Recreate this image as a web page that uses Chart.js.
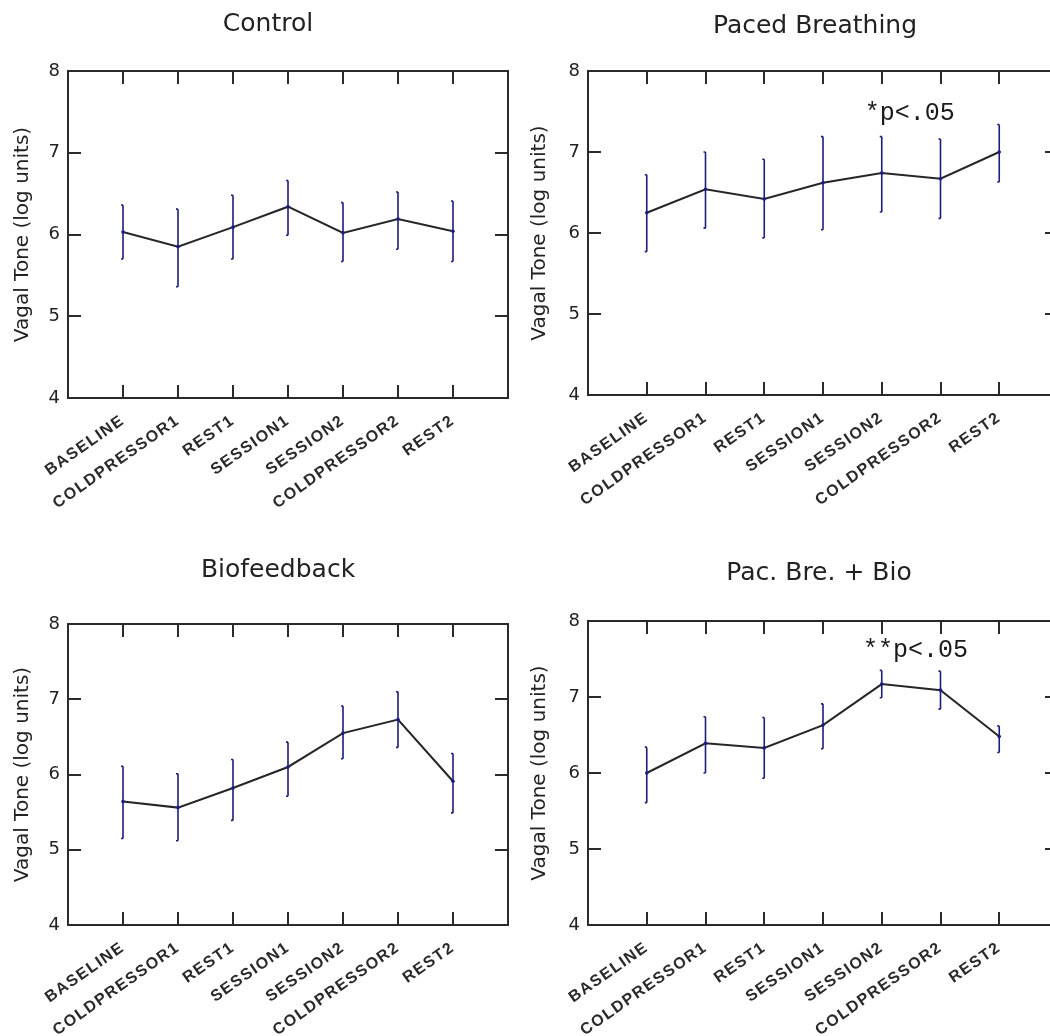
<!DOCTYPE html>
<html>
<head>
<meta charset="utf-8">
<script src="https://cdn.jsdelivr.net/npm/chart.js@4.4.0/dist/chart.umd.min.js"></script>
<style>
  html, body { margin: 0; padding: 0; background: #fff; overflow: hidden; }
  body { width: 1050px; height: 1036px; position: relative; }
  .panel { position: absolute; }
</style>
</head>
<body>
<div class="panel" style="left:0;top:0;width:525px;height:518px"><canvas id="c1"></canvas></div>
<div class="panel" style="left:525px;top:0;width:545px;height:518px"><canvas id="c2"></canvas></div>
<div class="panel" style="left:0;top:518px;width:525px;height:518px"><canvas id="c3"></canvas></div>
<div class="panel" style="left:525px;top:518px;width:545px;height:518px"><canvas id="c4"></canvas></div>
<script>
// Data
const categories = ["BASELINE", "COLDPRESSOR1", "REST1", "SESSION1", "SESSION2", "COLDPRESSOR2", "REST2"];
const yTicks = [4, 5, 6, 7, 8];

const controlMean = [6.03, 5.85, 6.09, 6.34, 6.02, 6.19, 6.04];
const controlHigh = [6.36, 6.31, 6.48, 6.66, 6.39, 6.52, 6.41];
const controlLow  = [5.70, 5.36, 5.70, 5.99, 5.67, 5.82, 5.67];

const pacedMean = [6.25, 6.54, 6.42, 6.62, 6.74, 6.67, 7.00];
const pacedHigh = [6.72, 7.00, 6.91, 7.19, 7.19, 7.16, 7.34];
const pacedLow  = [5.77, 6.06, 5.94, 6.04, 6.26, 6.18, 6.63];

const bioMean = [5.64, 5.56, 5.82, 6.10, 6.55, 6.73, 5.91];
const bioHigh = [6.11, 6.01, 6.20, 6.43, 6.91, 7.10, 6.28];
const bioLow  = [5.15, 5.12, 5.39, 5.71, 6.21, 6.36, 5.49];

const bothMean = [6.00, 6.39, 6.33, 6.63, 7.17, 7.09, 6.48];
const bothHigh = [6.34, 6.74, 6.73, 6.91, 7.35, 7.34, 6.62];
const bothLow  = [5.61, 6.00, 5.93, 6.32, 6.99, 6.84, 6.27];

// error bars + letter spacing for the x labels (drawn after datasets, ticks z = 1)
const errorBars = {
  id: "errorBars",
  afterDatasetsDraw(chart) {
    const ctx = chart.ctx;
    const x = chart.scales.x, y = chart.scales.y;
    chart.data.datasets.forEach(ds => {
      if (!ds.high) return;
      ctx.save();
      ctx.strokeStyle = "#1d1d7a";
      ctx.lineWidth = 1.6;
      ds.data.forEach((p, i) => {
        const px = x.getPixelForValue(p.x);
        const top = y.getPixelForValue(ds.high[i]);
        const bot = y.getPixelForValue(ds.low[i]);
        ctx.beginPath();
        ctx.moveTo(px, top); ctx.lineTo(px, bot);
        ctx.moveTo(px - 2, top); ctx.lineTo(px, top);
        ctx.moveTo(px - 2, bot); ctx.lineTo(px, bot);
        ctx.stroke();
      });
      ctx.restore();
    });
    ctx.letterSpacing = "1.5px";
  },
  afterDraw(chart) {
    chart.ctx.letterSpacing = "0px";
  }
};

// significance note
const note = {
  id: "note",
  afterDraw(chart, args, opts) {
    if (!opts.text) return;
    const ctx = chart.ctx;
    ctx.save();
    ctx.font = "25px 'Liberation Mono'";
    ctx.fillStyle = "#1a1a1a";
    ctx.textBaseline = "middle";
    ctx.fillText(opts.text, chart.scales.x.getPixelForValue(opts.x), chart.scales.y.getPixelForValue(opts.y));
    ctx.restore();
  }
};

// move the title a bit off the plot centre, like the original
const titleShift = {
  id: "titleShift",
  afterLayout(chart, args, opts) {
    const t = chart.titleBlock;
    if (!t) return;
    t.left = chart.chartArea.left + (opts.dx || 0);
    t.right = chart.chartArea.right + (opts.dx || 0);
  }
};

const axisColor = "#2a2a2a";
const setXTicks = s => { s.ticks = categories.map((c, i) => ({ value: i + 1 })); };
const setYTicks = s => { s.ticks = yTicks.map(v => ({ value: v })); };
const grid = { drawOnChartArea: false, tickLength: -13, color: axisColor, lineWidth: 2 };
const border = { color: axisColor, width: 2 };

function makePanel(id, title, mean, high, low, lay, noteOpts) {
  new Chart(document.getElementById(id), {
    type: "line",
    data: {
      datasets: [{
        data: mean.map((v, i) => ({ x: i + 1, y: v })),
        high: high,
        low: low,
        xAxisID: "x",
        yAxisID: "y",
        borderColor: "#262626",
        borderWidth: 2,
        pointRadius: 1.8,
        pointBorderWidth: 0,
        pointBackgroundColor: "#1d1d9a",
        tension: 0
      }]
    },
    options: {
      responsive: true,
      maintainAspectRatio: false,
      animation: false,
      layout: { padding: { left: 0, right: lay.pr, top: 0, bottom: 0 } },
      plugins: {
        legend: { display: false },
        tooltip: { enabled: false },
        title: {
          display: true,
          text: title,
          color: "#222",
          font: { family: "DejaVu Sans", size: 25, weight: "normal" },
          padding: { top: lay.t1, bottom: lay.t2 }
        },
        titleShift: { dx: lay.dx },
        note: noteOpts || {}
      },
      scales: {
        x: {
          type: "linear", min: 0, max: 8, position: "bottom",
          afterBuildTicks: setXTicks,
          afterFit: s => { s.height = lay.xh; s.paddingLeft = 0; s.paddingRight = 0; },
          grid: grid, border: border,
          ticks: {
            z: 1, autoSkip: false, minRotation: 35, maxRotation: 35, padding: 26,
            color: "#2a2a2a", font: { family: "Liberation Sans", size: 16, weight: "bold" },
            callback: v => categories[v - 1] || ""
          }
        },
        x2: {
          type: "linear", min: 0, max: 8, position: "top",
          afterBuildTicks: setXTicks,
          afterFit: s => { s.height = 0; },
          grid: grid, border: border,
          ticks: { display: false }
        },
        y: {
          type: "linear", min: 4, max: 8, position: "left",
          afterBuildTicks: setYTicks,
          afterFit: s => { s.width = lay.yw; s.paddingTop = 0; s.paddingBottom = 0; },
          grid: grid, border: border,
          ticks: { padding: 21, color: "#222", font: { family: "DejaVu Sans", size: 18 } },
          title: {
            display: true, text: "Vagal Tone (log units)", color: "#222",
            font: { family: "DejaVu Sans", size: 20 },
            padding: { top: lay.tp, bottom: 0 }
          }
        },
        y2: {
          type: "linear", min: 4, max: 8, position: "right",
          afterBuildTicks: setYTicks,
          afterFit: s => { s.width = 0; },
          grid: grid, border: border,
          ticks: { display: false }
        }
      }
    },
    plugins: [errorBars, note, titleShift]
  });
}

makePanel("c1", "Control", controlMean, controlHigh, controlLow,
  { yw: 68, xh: 120, pr: 17, t1: 9, t2: 32, tp: 11, dx: -20 });
makePanel("c2", "Paced Breathing", pacedMean, pacedHigh, pacedLow,
  { yw: 63, xh: 123, pr: 12, t1: 11, t2: 30, tp: 3, dx: -8 },
  { text: "*p<.05", x: 4.71, y: 7.48 });
makePanel("c3", "Biofeedback", bioMean, bioHigh, bioLow,
  { yw: 68, xh: 111, pr: 17, t1: 37, t2: 39, tp: 11, dx: -10 });
makePanel("c4", "Pac. Bre. + Bio", bothMean, bothHigh, bothLow,
  { yw: 63, xh: 111, pr: 12, t1: 40, t2: 33, tp: 3, dx: -4 },
  { text: "**p<.05", x: 4.68, y: 7.62 });
</script>
</body>
</html>
